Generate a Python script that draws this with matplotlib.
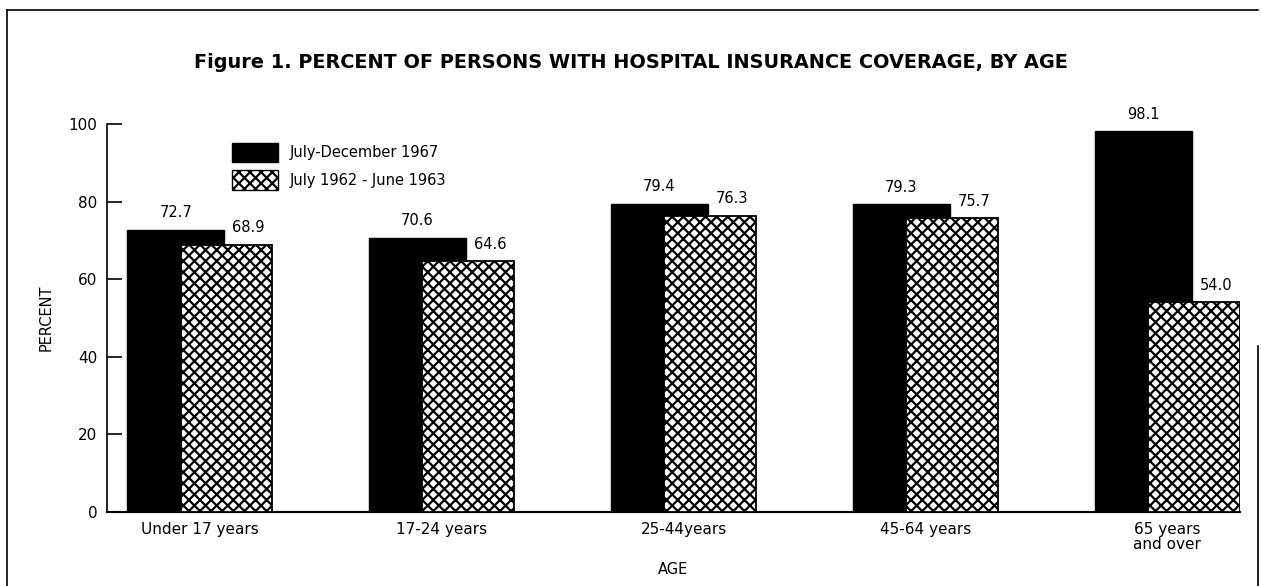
import numpy as np
import matplotlib.pyplot as plt
from matplotlib.lines import Line2D
from matplotlib.patches import Patch

# data
ages = ["Under 17 years", "17-24 years", "25-44years", "45-64 years", "65 years\nand over"]
pct_1967 = [72.7, 70.6, 79.4, 79.3, 98.1]
pct_1962 = [68.9, 64.6, 76.3, 75.7, 54.0]
lbl_1967 = ["72.7", "70.6", "79.4", "79.3", "98.1"]
lbl_1962 = ["68.9", "64.6", "76.3", "75.7", "54.0"]
yticks = [0, 20, 40, 60, 80, 100]

plt.rcParams['font.family'] = ['DejaVu Sans']
plt.rcParams['hatch.linewidth'] = 1.6

fig = plt.figure(figsize=(12.61, 5.86), dpi=100)
ax = fig.add_axes([0.0849, 0.1263, 0.8984, 0.6621])

x = np.arange(len(ages))
w = 0.40
ax.bar(x - 0.10, pct_1967, width=w, color="black", edgecolor="black", zorder=2)
ax.bar(x + 0.11, pct_1962, width=0.38, color="white", edgecolor="black",
       hatch="xxx", linewidth=1.3, zorder=3)

for i in range(len(ages)):
    ax.text(x[i] - 0.10, pct_1967[i] + 2.5, lbl_1967[i], ha="center", va="bottom", fontsize=10.5)
    ax.text(x[i] + 0.20, pct_1962[i] + 2.5, lbl_1962[i], ha="center", va="bottom", fontsize=10.5)

ax.set_xlim(-0.384, 4.3)
ax.set_ylim(0, 100)
ax.set_yticks(yticks)
ax.tick_params(axis="y", direction="in", length=11, width=1.2, pad=7, labelsize=11)
ax.set_xticks(x)
ax.set_xticklabels(ages, fontsize=11, linespacing=1.05)
ax.tick_params(axis="x", length=0, pad=7)
for s in ["top", "right"]:
    ax.spines[s].set_visible(False)
ax.spines["left"].set_linewidth(1.2)
ax.spines["bottom"].set_linewidth(1.5)

ax.set_ylabel("PERCENT", fontsize=10.5, labelpad=11)
ax.set_xlabel("AGE", fontsize=10.5, labelpad=7)

handles = [Patch(facecolor="black", edgecolor="black"),
           Patch(facecolor="white", edgecolor="black", hatch="xxx")]
ax.legend(handles, ["July-December 1967", "July 1962 - June 1963"],
          loc="upper left", bbox_to_anchor=(0.110, 0.952), frameon=False,
          fontsize=10.5, handlelength=3.2, handleheight=1.7, labelspacing=0.55,
          handletextpad=0.8, borderpad=0, borderaxespad=0)

fig.text(0.5, 0.894, "Figure 1. PERCENT OF PERSONS WITH HOSPITAL INSURANCE COVERAGE, BY AGE",
         ha="center", va="center", fontsize=13.9, fontweight="bold")

# page frame
fig.add_artist(Line2D([0.0056, 0.9976], [0.983, 0.983], color="black", lw=1.2))
fig.add_artist(Line2D([0.0056, 0.0056], [0.0, 0.983], color="black", lw=1.2))
fig.add_artist(Line2D([0.9976, 0.9976], [0.0, 0.41], color="black", lw=1.2))

plt.savefig("out.png", dpi=100)
